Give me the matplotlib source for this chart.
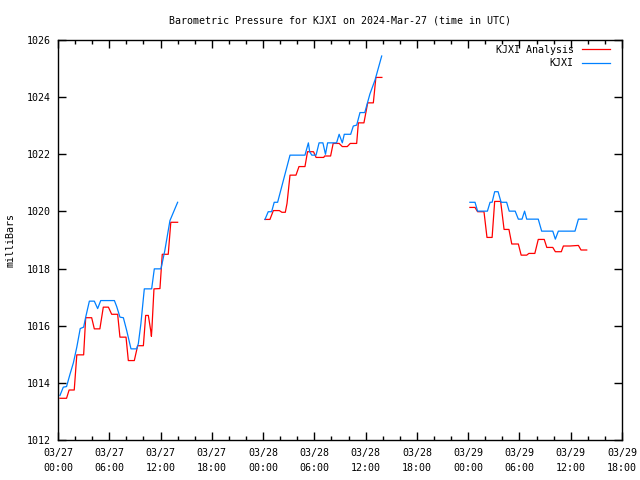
import matplotlib
matplotlib.use("Agg")
import matplotlib.pyplot as plt
import matplotlib.ticker as mticker
import numpy as np

NAN = float("nan")

# hours since 2024-03-27 00:00 UTC, pressure in millibars
analysis_hours = [0.23, 1.0, 1.3, 1.9, 2.2, 3.0, 3.24, 3.94, 4.25, 4.9, 5.3, 5.9, 6.28, 6.98,
                  7.25, 7.96, 8.23, 8.93, 9.32, 9.99, 10.26, 10.57, 10.85, 10.93, 11.0, 11.23,
                  11.93, 12.2, 12.9, 13.2, 14.0,
                  NAN,
                  24.22, 24.8, 25.2, 25.9, 26.2, 26.6, 26.8, 27.15, 27.85, 28.2, 28.9, 29.2,
                  29.9, 30.2, 31.1, 31.2, 31.9, 32.2, 32.9, 33.27, 33.85, 34.2, 34.95, 35.15,
                  35.8, 36.24, 36.9, 37.2, 37.9,
                  NAN,
                  48.2, 48.8, 49.1, 49.85, 50.2, 50.8, 51.1, 51.8, 52.2, 52.77, 53.1, 53.87,
                  54.2, 54.85, 55.1, 55.8, 56.2, 56.9, 57.2, 57.9, 58.2, 58.9, 59.14, 59.9,
                  60.9, 61.2, 61.87]
analysis_mb = [1013.46, 1013.46, 1013.75, 1013.75, 1014.98, 1014.98, 1016.28, 1016.28, 1015.89,
               1015.89, 1016.65, 1016.65, 1016.4, 1016.4, 1015.6, 1015.6, 1014.78, 1014.78,
               1015.3, 1015.3, 1016.36, 1016.36, 1015.83, 1015.63, 1015.95, 1017.29, 1017.3,
               1018.5, 1018.5, 1019.62, 1019.62,
               NAN,
               1019.72, 1019.72, 1020.03, 1020.03, 1019.97, 1019.97, 1020.28, 1021.27, 1021.27,
               1021.57, 1021.57, 1022.09, 1022.09, 1021.89, 1021.89, 1021.94, 1021.94, 1022.38,
               1022.38, 1022.27, 1022.27, 1022.38, 1022.38, 1023.1, 1023.1, 1023.8, 1023.8,
               1024.69, 1024.69,
               NAN,
               1020.14, 1020.14, 1019.99, 1019.99, 1019.09, 1019.09, 1020.35, 1020.35, 1019.37,
               1019.37, 1018.86, 1018.86, 1018.47, 1018.47, 1018.53, 1018.53, 1019.02, 1019.02,
               1018.74, 1018.74, 1018.59, 1018.59, 1018.79, 1018.79, 1018.81, 1018.65, 1018.65]

obs_hours = [0.23, 0.62, 1.0, 1.4, 1.8, 2.2, 2.6, 3.0, 3.24, 3.67, 4.25, 4.64, 5.0, 6.6, 6.87,
             7.25, 7.65, 8.04, 8.54, 9.2, 9.4, 9.7, 10.1, 10.96, 11.27, 12.05, 12.5, 13.1, 14.0,
             NAN,
             24.22, 24.6, 25.0, 25.3, 25.7, 27.15, 28.9, 29.3, 29.45, 29.7, 30.2, 30.55, 31.0,
             31.3, 31.55, 32.6, 32.9, 33.27, 33.5, 34.25, 34.56, 34.95, 35.34, 35.9, 36.5,
             37.1, 37.88,
             NAN,
             48.2, 48.8, 49.1, 50.25, 50.56, 50.8, 51.1, 51.5, 51.85, 52.5, 52.8, 53.5, 53.87,
             54.3, 54.6, 54.85, 56.2, 56.6, 57.9, 58.2, 58.55, 60.5, 60.9, 61.87]
obs_mb = [1013.56, 1013.85, 1013.87, 1014.3, 1014.7, 1015.25, 1015.9, 1015.95, 1016.3, 1016.86,
          1016.86, 1016.6, 1016.88, 1016.88, 1016.67, 1016.3, 1016.28, 1015.83, 1015.19,
          1015.19, 1015.37, 1016.07, 1017.29, 1017.29, 1017.99, 1017.99, 1018.63, 1019.68,
          1020.32,
          NAN,
          1019.72, 1019.99, 1019.99, 1020.32, 1020.32, 1021.97, 1021.97, 1022.4, 1022.09,
          1021.97, 1021.97, 1022.4, 1022.4, 1022.0, 1022.4, 1022.4, 1022.7, 1022.4, 1022.7,
          1022.7, 1022.99, 1023.02, 1023.46, 1023.46, 1024.11, 1024.6, 1025.44,
          NAN,
          1020.32, 1020.32, 1020.01, 1020.01, 1020.32, 1020.32, 1020.69, 1020.69, 1020.32,
          1020.32, 1020.01, 1020.01, 1019.73, 1019.73, 1020.01, 1019.73, 1019.73, 1019.31,
          1019.31, 1019.03, 1019.31, 1019.31, 1019.73, 1019.73]

x_tick_labels = ["03/27\n00:00", "03/27\n06:00", "03/27\n12:00", "03/27\n18:00",
                 "03/28\n00:00", "03/28\n06:00", "03/28\n12:00", "03/28\n18:00",
                 "03/29\n00:00", "03/29\n06:00", "03/29\n12:00", "03/29\n18:00"]

plt.rcParams["font.family"] = ["DejaVu Sans Mono"]
plt.rcParams["font.size"] = 7.2

fig = plt.figure(figsize=(6.4, 4.8), dpi=100)
ax = fig.add_axes([58 / 640, 40 / 480, 564 / 640, 400 / 480])

ax.plot(analysis_hours, analysis_mb, color="#ff0000", lw=0.9, label="KJXI Analysis")
ax.plot(obs_hours, obs_mb, color="#0080ff", lw=0.9, label="KJXI")

ax.set_xlim(0, 66)
ax.set_ylim(1012, 1026)
ax.xaxis.set_major_locator(mticker.FixedLocator(np.arange(0, 67, 6)))
ax.xaxis.set_minor_locator(mticker.FixedLocator(np.arange(0, 67, 2)))
ax.set_xticklabels(x_tick_labels, linespacing=1.55)
ax.yaxis.set_major_locator(mticker.MultipleLocator(2))
ax.yaxis.set_major_formatter(mticker.FormatStrFormatter("%d"))

ax.tick_params(which="both", direction="in", top=True, right=True, width=1.0)
ax.tick_params(axis="x", which="both", pad=6)
ax.tick_params(axis="y", which="both", pad=5)
ax.tick_params(which="major", length=6)
ax.tick_params(which="minor", length=3)
for s in ax.spines.values():
    s.set_linewidth(1.0)

ax.set_ylabel("milliBars", labelpad=8)
ax.set_title("Barometric Pressure for KJXI on 2024-Mar-27 (time in UTC)", pad=12, fontsize=7.2)

leg = ax.legend(loc="upper right", bbox_to_anchor=(1 - 2 / 564, 1 + 5 / 400),
                frameon=False, markerfirst=False, handlelength=2.8,
                borderaxespad=0.8, borderpad=0.2, labelspacing=0.35, handletextpad=0.85)
for t in leg.get_texts():
    t.set_ha("right")

fig.savefig("out.png", dpi=100)
